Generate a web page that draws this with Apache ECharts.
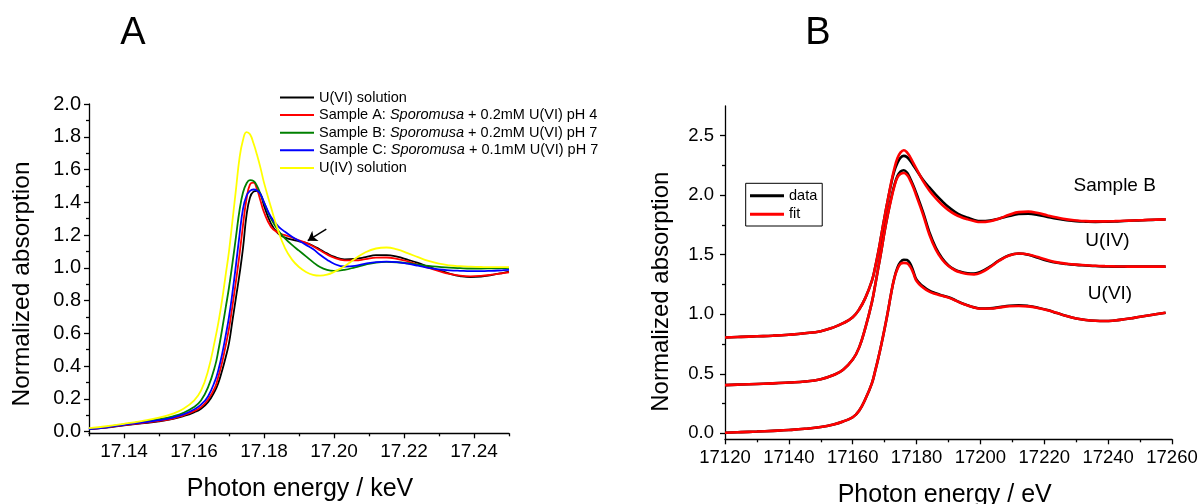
<!DOCTYPE html>
<html><head><meta charset="utf-8">
<script src="https://cdn.jsdelivr.net/npm/echarts@6/dist/echarts.min.js"></script>
<style>html,body{margin:0;padding:0;background:#fff}#c{width:1201px;height:504px}</style>
</head><body><div id="c"></div>
<script>
// ---------- Panel A (keV) ----------
const energyA = [17.130,17.135,17.140,17.145,17.150,17.154,17.157,17.160,17.162,17.164,17.166,17.167,17.168,17.169,17.170,17.171,17.172,17.173,17.174,17.175,17.176,17.177,17.178,17.179,17.180,17.182,17.184,17.186,17.188,17.190,17.192,17.194,17.196,17.198,17.200,17.203,17.206,17.209,17.212,17.215,17.218,17.221,17.224,17.227,17.230,17.233,17.236,17.239,17.242,17.245,17.248,17.250];
const u6Solution = [0.015,0.025,0.038,0.05,0.063,0.078,0.095,0.118,0.14,0.18,0.25,0.30,0.37,0.45,0.54,0.68,0.82,0.96,1.12,1.32,1.43,1.465,1.47,1.45,1.38,1.27,1.21,1.185,1.172,1.162,1.152,1.135,1.112,1.088,1.068,1.052,1.055,1.065,1.077,1.077,1.068,1.05,1.03,1.007,0.985,0.965,0.95,0.943,0.946,0.956,0.968,0.977];
const sampleA = [0.015,0.026,0.04,0.052,0.066,0.08,0.1,0.125,0.15,0.195,0.27,0.34,0.42,0.52,0.63,0.77,0.92,1.08,1.26,1.42,1.51,1.52,1.48,1.41,1.34,1.25,1.215,1.20,1.185,1.168,1.152,1.132,1.107,1.082,1.062,1.046,1.045,1.053,1.062,1.063,1.055,1.04,1.02,1.0,0.98,0.963,0.952,0.948,0.951,0.958,0.967,0.973];
const sampleB = [0.017,0.029,0.045,0.06,0.076,0.094,0.115,0.15,0.19,0.27,0.40,0.50,0.62,0.75,0.88,1.03,1.19,1.35,1.46,1.515,1.535,1.53,1.50,1.45,1.40,1.30,1.23,1.18,1.14,1.105,1.07,1.035,1.005,0.988,0.982,0.988,1.003,1.02,1.032,1.036,1.034,1.028,1.02,1.012,1.006,1.001,0.998,0.996,0.996,0.997,0.998,1.0];
const sampleC = [0.015,0.027,0.042,0.055,0.07,0.086,0.105,0.135,0.165,0.215,0.31,0.38,0.47,0.58,0.70,0.85,1.02,1.20,1.36,1.44,1.47,1.478,1.472,1.45,1.40,1.31,1.255,1.22,1.19,1.165,1.14,1.115,1.08,1.05,1.025,1.008,1.012,1.025,1.035,1.038,1.035,1.025,1.013,1.0,0.99,0.985,0.982,0.98,0.98,0.982,0.985,0.987];
const u4Solution = [0.022,0.033,0.048,0.065,0.085,0.11,0.14,0.19,0.25,0.37,0.56,0.67,0.80,0.95,1.10,1.29,1.48,1.67,1.78,1.828,1.815,1.76,1.69,1.61,1.52,1.37,1.23,1.12,1.05,1.005,0.975,0.957,0.952,0.958,0.975,1.01,1.055,1.095,1.118,1.124,1.112,1.09,1.065,1.042,1.025,1.015,1.01,1.007,1.005,1.004,1.004,1.004];
const ticksAX = [17.14,17.16,17.18,17.20,17.22,17.24];
const minorAX = [17.13,17.15,17.17,17.19,17.21,17.23,17.25];
const ticksAY = [0,0.2,0.4,0.6,0.8,1.0,1.2,1.4,1.6,1.8,2.0];
const minorAY = [0.1,0.3,0.5,0.7,0.9,1.1,1.3,1.5,1.7,1.9];

// ---------- Panel B (eV) ----------
const energyB = [17120,17125,17130,17135,17140,17145,17150,17154,17157,17160,17162,17164,17166,17167,17168,17169,17170,17171,17172,17173,17174,17175,17176,17177,17178,17179,17180,17182,17184,17186,17188,17190,17192,17194,17196,17198,17200,17203,17206,17209,17212,17215,17218,17221,17224,17227,17230,17233,17236,17239,17242,17245,17248,17251,17254,17258];
const u6Data = [0.005,0.01,0.015,0.021,0.028,0.038,0.053,0.075,0.1,0.135,0.19,0.29,0.42,0.52,0.63,0.75,0.88,1.02,1.17,1.30,1.39,1.44,1.458,1.455,1.425,1.36,1.29,1.235,1.198,1.176,1.158,1.143,1.12,1.095,1.075,1.058,1.048,1.05,1.06,1.072,1.076,1.07,1.055,1.035,1.01,0.985,0.965,0.952,0.945,0.943,0.948,0.958,0.97,0.983,0.996,1.013];
const u6Fit = [0.005,0.01,0.015,0.021,0.028,0.038,0.053,0.075,0.1,0.135,0.19,0.29,0.42,0.52,0.63,0.75,0.88,1.02,1.17,1.30,1.38,1.425,1.432,1.428,1.40,1.345,1.28,1.225,1.19,1.17,1.155,1.14,1.118,1.094,1.074,1.057,1.047,1.048,1.057,1.068,1.07,1.066,1.053,1.034,1.01,0.985,0.965,0.952,0.945,0.943,0.948,0.958,0.97,0.983,0.996,1.013];
const u4Data = [0.405,0.41,0.415,0.42,0.427,0.435,0.455,0.49,0.535,0.62,0.72,0.89,1.10,1.24,1.39,1.54,1.70,1.84,1.97,2.08,2.16,2.2,2.21,2.19,2.14,2.08,2.01,1.86,1.69,1.56,1.47,1.41,1.375,1.355,1.345,1.343,1.355,1.40,1.455,1.495,1.51,1.50,1.475,1.45,1.432,1.422,1.415,1.41,1.405,1.402,1.40,1.40,1.40,1.40,1.40,1.40];
const u4Fit = [0.405,0.41,0.415,0.42,0.427,0.435,0.455,0.49,0.535,0.62,0.72,0.89,1.10,1.24,1.39,1.54,1.70,1.84,1.96,2.07,2.15,2.18,2.186,2.17,2.125,2.065,1.99,1.84,1.67,1.545,1.46,1.405,1.37,1.35,1.338,1.335,1.348,1.395,1.452,1.494,1.51,1.502,1.48,1.455,1.436,1.425,1.417,1.412,1.407,1.404,1.402,1.401,1.40,1.40,1.40,1.40];
const sbData = [0.805,0.81,0.815,0.82,0.828,0.84,0.858,0.89,0.925,0.975,1.04,1.14,1.28,1.39,1.52,1.67,1.82,1.96,2.09,2.20,2.27,2.315,2.33,2.32,2.29,2.25,2.21,2.13,2.065,2.005,1.95,1.90,1.86,1.83,1.81,1.792,1.782,1.787,1.805,1.825,1.842,1.845,1.835,1.818,1.802,1.79,1.782,1.778,1.776,1.777,1.779,1.783,1.787,1.79,1.793,1.797];
const sbFit = [0.805,0.81,0.815,0.82,0.828,0.84,0.858,0.89,0.925,0.975,1.04,1.14,1.28,1.39,1.52,1.67,1.82,1.96,2.10,2.22,2.31,2.36,2.378,2.36,2.32,2.27,2.22,2.12,2.04,1.975,1.92,1.875,1.84,1.815,1.797,1.783,1.775,1.782,1.805,1.835,1.858,1.862,1.85,1.83,1.812,1.797,1.788,1.782,1.78,1.78,1.782,1.785,1.788,1.791,1.794,1.797];
const ticksBY = [0,0.5,1.0,1.5,2.0,2.5];
const minorBY = [0.25,0.75,1.25,1.75,2.25];

const legendTextA = {
  'U(VI) solution': '{n|U(VI) solution}',
  'Sample A': '{n|Sample A: }{i|Sporomusa}{n| + 0.2mM U(VI) pH 4}',
  'Sample B': '{n|Sample B: }{i|Sporomusa}{n| + 0.2mM U(VI) pH 7}',
  'Sample C': '{n|Sample C: }{i|Sporomusa}{n| + 0.1mM U(VI) pH 7}',
  'U(IV) solution': '{n|U(IV) solution}'
};

const F = '"Liberation Sans", Arial, Helvetica, sans-serif';
const AL = {color:'#000', width:1.3};
const pairs = (xs, ys) => xs.map((x,i)=>[x, ys[i]]);

function lineA(name, ys, color, extra){
  return Object.assign({type:'line', name, xAxisIndex:0, yAxisIndex:0, data:pairs(energyA, ys),
    showSymbol:false, smooth:0.45, color, lineStyle:{color, width:1.8}, silent:true}, extra||{});
}
function lineB(name, ys, color){
  return {type:'line', name, xAxisIndex:2, yAxisIndex:2, data:pairs(energyB, ys),
    showSymbol:false, smooth:0.45, color, lineStyle:{color, width:2.6}, silent:true};
}

const chart = echarts.init(document.getElementById('c'));
const option = {
  animation:false,
  backgroundColor:'#fff',
  textStyle:{fontFamily:F},
  grid:[
    {left:89, top:104, width:420, height:329.3},
    {left:725, top:105.9, width:447, height:333.4}
  ],
  xAxis:[
    {gridIndex:0, type:'value', min:17.13, max:17.25, position:'bottom',
     axisLine:{show:true, onZero:false, lineStyle:AL}, splitLine:{show:false},
     axisTick:{show:true, customValues:ticksAX, length:5, lineStyle:AL},
     axisLabel:{customValues:ticksAX, formatter:v=>v.toFixed(2), fontSize:19, color:'#000', margin:9, fontFamily:F}},
    {gridIndex:0, type:'value', min:17.13, max:17.25, position:'bottom',
     axisLine:{show:false, onZero:false}, splitLine:{show:false},
     axisTick:{show:true, customValues:minorAX, length:3, lineStyle:AL},
     axisLabel:{show:false}},
    {gridIndex:1, type:'value', min:17120, max:17260, interval:20, position:'bottom',
     axisLine:{show:true, onZero:false, lineStyle:AL}, splitLine:{show:false},
     axisTick:{show:true, length:5, lineStyle:AL},
     minorTick:{show:true, splitNumber:2, length:3, lineStyle:AL},
     axisLabel:{formatter:v=>String(v), fontSize:18.5, color:'#000', margin:9, fontFamily:F}}
  ],
  yAxis:[
    {gridIndex:0, type:'value', min:-0.01, max:2.0, position:'left',
     axisLine:{show:true, onZero:false, lineStyle:AL}, splitLine:{show:false},
     axisTick:{show:true, customValues:ticksAY, length:5, lineStyle:AL},
     axisLabel:{customValues:ticksAY, formatter:v=>v.toFixed(1), fontSize:20, color:'#000', margin:8, fontFamily:F}},
    {gridIndex:0, type:'value', min:-0.01, max:2.0, position:'left',
     axisLine:{show:false, onZero:false}, splitLine:{show:false},
     axisTick:{show:true, customValues:minorAY, length:3, lineStyle:AL},
     axisLabel:{show:false}},
    {gridIndex:1, type:'value', min:-0.05, max:2.75, position:'left',
     axisLine:{show:true, onZero:false, lineStyle:AL}, splitLine:{show:false},
     axisTick:{show:true, customValues:ticksBY, length:5, lineStyle:AL},
     axisLabel:{customValues:ticksBY, formatter:v=>v.toFixed(1), fontSize:18.5, color:'#000', margin:11, fontFamily:F}},
    {gridIndex:1, type:'value', min:-0.05, max:2.75, position:'left',
     axisLine:{show:false, onZero:false}, splitLine:{show:false},
     axisTick:{show:true, customValues:minorBY, length:3, lineStyle:AL},
     axisLabel:{show:false}}
  ],
  legend:[
    {data:['U(VI) solution','Sample A','Sample B','Sample C','U(IV) solution'],
     orient:'vertical', left:280, top:90, padding:0, itemGap:2.6, itemWidth:34, itemHeight:2,
     icon:'rect', selectedMode:false, formatter:n=>legendTextA[n],
     textStyle:{rich:{
       n:{fontSize:14.5, fontFamily:F, color:'#000', lineHeight:16},
       i:{fontSize:14.5, fontFamily:F, fontStyle:'italic', color:'#000', lineHeight:16}}}},
    {data:['data','fit'], orient:'vertical', left:745.7, top:183.3, padding:[4.4,5,3.7,4.3],
     borderColor:'#000', borderWidth:1, itemGap:2.6, itemWidth:34, itemHeight:3, icon:'rect',
     selectedMode:false, textStyle:{fontSize:14.5, fontFamily:F, color:'#000', lineHeight:16}}
  ],
  series:[
    lineA('U(VI) solution', u6Solution, '#000000', {
      markLine:{silent:true, symbol:['none','arrow'], symbolSize:9, label:{show:false},
        lineStyle:{color:'#000', width:1.5, type:'solid'},
        data:[[{coord:[17.1978,1.236]},{coord:[17.1925,1.166]}]]}
    }),
    lineA('Sample A', sampleA, '#ff0000'),
    lineA('Sample B', sampleB, '#008000'),
    lineA('Sample C', sampleC, '#0000ff'),
    lineA('U(IV) solution', u4Solution, '#ffff00'),
    lineB('data', u6Data, '#000000'),
    lineB('fit', u6Fit, '#ff0000'),
    lineB('data', u4Data, '#000000'),
    lineB('fit', u4Fit, '#ff0000'),
    lineB('data', sbData, '#000000'),
    lineB('fit', sbFit, '#ff0000')
  ],
  graphic:[
    {type:'text', x:133, y:34, style:{text:'A', font:'38px '+F, fill:'#000', align:'center', verticalAlign:'middle'}},
    {type:'text', x:818, y:34, style:{text:'B', font:'38px '+F, fill:'#000', align:'center', verticalAlign:'middle'}},
    {type:'text', x:300, y:489, style:{text:'Photon energy / keV', font:'25px '+F, fill:'#000', align:'center', verticalAlign:'middle'}},
    {type:'text', x:22.5, y:284, rotation:Math.PI/2, style:{text:'Normalized absorption', font:'24.5px '+F, fill:'#000', align:'center', verticalAlign:'middle'}},
    {type:'text', x:944.7, y:495, style:{text:'Photon energy / eV', font:'25px '+F, fill:'#000', align:'center', verticalAlign:'middle'}},
    {type:'text', x:661, y:291.7, rotation:Math.PI/2, style:{text:'Normalized absorption', font:'24px '+F, fill:'#000', align:'center', verticalAlign:'middle'}},
    {type:'text', x:1114.7, y:186, style:{text:'Sample B', font:'19px '+F, fill:'#000', align:'center', verticalAlign:'middle'}},
    {type:'text', x:1107.5, y:241, style:{text:'U(IV)', font:'19px '+F, fill:'#000', align:'center', verticalAlign:'middle'}},
    {type:'text', x:1110, y:293.5, style:{text:'U(VI)', font:'19px '+F, fill:'#000', align:'center', verticalAlign:'middle'}}
  ]
};
chart.setOption(option);
</script>
</body></html>
